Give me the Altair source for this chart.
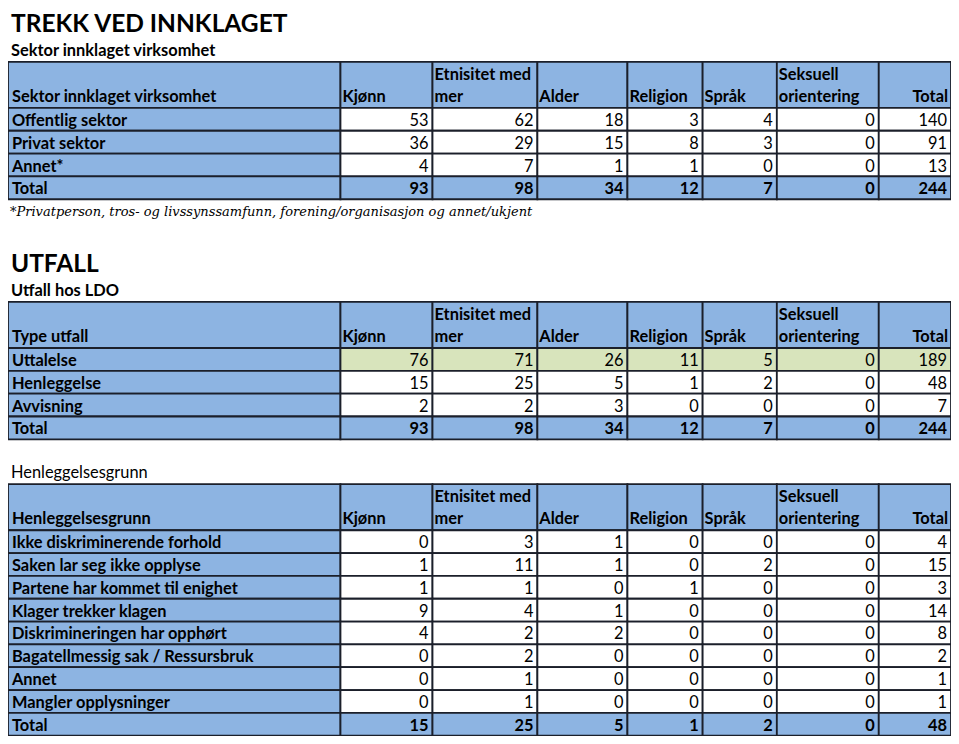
import altair as alt
import pandas as pd

# ---------------- data ----------------
TITLE_1 = "TREKK VED INNKLAGET"
SUB_1 = "Sektor innklaget virksomhet"
FOOTNOTE = "*Privatperson, tros- og livssynssamfunn, forening/organisasjon og annet/ukjent"
TITLE_2 = "UTFALL"
SUB_2 = "Utfall hos LDO"
SUB_3 = "Henleggelsesgrunn"

HEAD_LINE1 = ["", "Etnisitet med", "", "", "", "Seksuell", ""]
HEAD_LINE2 = ["Kjønn", "mer", "Alder", "Religion", "Språk", "orientering", "Total"]

T1_TITLE = "Sektor innklaget virksomhet"
T1_ROWS = ["Offentlig sektor", "Privat sektor", "Annet*", "Total"]
T1_VALUES = [
    [53, 62, 18, 3, 4, 0, 140],
    [36, 29, 15, 8, 3, 0, 91],
    [4, 7, 1, 1, 0, 0, 13],
    [93, 98, 34, 12, 7, 0, 244],
]

T2_TITLE = "Type utfall"
T2_ROWS = ["Uttalelse", "Henleggelse", "Avvisning", "Total"]
T2_VALUES = [
    [76, 71, 26, 11, 5, 0, 189],
    [15, 25, 5, 1, 2, 0, 48],
    [2, 2, 3, 0, 0, 0, 7],
    [93, 98, 34, 12, 7, 0, 244],
]
T2_HIGHLIGHT = ["Uttalelse"]

T3_TITLE = "Henleggelsesgrunn"
T3_ROWS = [
    "Ikke diskriminerende forhold",
    "Saken lar seg ikke opplyse",
    "Partene har kommet til enighet",
    "Klager trekker klagen",
    "Diskrimineringen har opphørt",
    "Bagatellmessig sak / Ressursbruk",
    "Annet",
    "Mangler opplysninger",
    "Total",
]
T3_VALUES = [
    [0, 3, 1, 0, 0, 0, 4],
    [1, 11, 1, 0, 2, 0, 15],
    [1, 1, 0, 1, 0, 0, 3],
    [9, 4, 1, 0, 0, 0, 14],
    [4, 2, 2, 0, 0, 0, 8],
    [0, 2, 0, 0, 0, 0, 2],
    [0, 1, 0, 0, 0, 0, 1],
    [0, 1, 0, 0, 0, 0, 1],
    [15, 25, 5, 1, 2, 0, 48],
]

# ---------------- layout (reference pixel units) ----------------
COL_EDGES = [2, 338, 431, 537, 628, 704, 779, 882, 955]
TABLE_TOPS = [52, 297, 483]
HEADER_H = 47
ROW_H = 23.3
BLUE = "#8DB4E2"
GREEN = "#D8E4BC"
WHITE = "#FFFFFF"

tables = [
    (T1_TITLE, T1_ROWS, T1_VALUES, []),
    (T2_TITLE, T2_ROWS, T2_VALUES, T2_HIGHLIGHT),
    (T3_TITLE, T3_ROWS, T3_VALUES, []),
]

rects = []
texts = []
for (ttitle, rows, values, highlight), top in zip(tables, TABLE_TOPS):
    hb = top + HEADER_H
    # header cells
    for c in range(len(COL_EDGES) - 1):
        rects.append(dict(x=COL_EDGES[c], x2=COL_EDGES[c + 1], y=top, y2=hb, fill=BLUE))
    texts.append(dict(x=COL_EDGES[0] + 4, y=hb - 6, text=ttitle, kind="head_l"))
    for c, (l1, l2) in enumerate(zip(HEAD_LINE1, HEAD_LINE2)):
        left, right = COL_EDGES[c + 1], COL_EDGES[c + 2]
        if l2 == "Total":
            texts.append(dict(x=right - 3, y=hb - 6, text=l2, kind="head_r"))
        else:
            texts.append(dict(x=left + 2, y=hb - 6, text=l2, kind="head_l"))
            if l1:
                texts.append(dict(x=left + 2, y=hb - 29, text=l1, kind="head_l"))
    # body
    for r, (label, vals) in enumerate(zip(rows, values)):
        y0 = hb + r * ROW_H
        y1 = y0 + ROW_H
        is_total = label == "Total"
        rects.append(dict(x=COL_EDGES[0], x2=COL_EDGES[1], y=y0, y2=y1, fill=BLUE))
        texts.append(dict(x=COL_EDGES[0] + 4, y=y1 - 5, text=label, kind="head_l"))
        for c, v in enumerate(vals):
            fill = BLUE if is_total else (GREEN if label in highlight else WHITE)
            rects.append(dict(x=COL_EDGES[c + 1], x2=COL_EDGES[c + 2], y=y0, y2=y1, fill=fill))
            texts.append(dict(x=COL_EDGES[c + 2] - 4, y=y1 - 5, text=str(v),
                              kind="val_b" if is_total else "val"))

texts += [
    dict(x=5, y=22, text=TITLE_1, kind="title"),
    dict(x=5, y=266, text=TITLE_2, kind="title"),
    dict(x=5, y=46, text=SUB_1, kind="sub_b"),
    dict(x=5, y=291, text=SUB_2, kind="sub_b"),
    dict(x=5, y=477, text=SUB_3, kind="sub"),
    dict(x=4, y=209, text=FOOTNOTE, kind="foot"),
]

rect_df = pd.DataFrame(rects)
text_df = pd.DataFrame(texts)

W, H = 943, 728
xs = alt.Scale(domain=[2, 955], nice=False, zero=False)
ys = alt.Scale(domain=[-3, 740], nice=False, zero=False, reverse=True)

cells = alt.Chart(rect_df).mark_rect(stroke="#1b1f2a", strokeWidth=1.8).encode(
    x=alt.X("x:Q", scale=xs, axis=None),
    x2="x2:Q",
    y=alt.Y("y:Q", scale=ys, axis=None),
    y2="y2:Q",
    fill=alt.Fill("fill:N", scale=None),
)

FONT = "Lato"
FS = 16.4

def text_layer(kind, **kw):
    return alt.Chart(text_df).transform_filter(alt.datum.kind == kind).mark_text(
        baseline="alphabetic", color="#000000", **kw
    ).encode(
        x=alt.X("x:Q", scale=xs, axis=None),
        y=alt.Y("y:Q", scale=ys, axis=None),
        text="text:N",
    )

layers = [
    cells,
    text_layer("head_l", align="left", font=FONT, fontWeight="bold", fontSize=FS),
    text_layer("head_r", align="right", font=FONT, fontWeight="bold", fontSize=FS),
    text_layer("val", align="right", font=FONT, fontSize=FS),
    text_layer("val_b", align="right", font=FONT, fontWeight="bold", fontSize=FS),
    text_layer("title", align="left", font=FONT, fontWeight="bold", fontSize=24.5),
    text_layer("sub_b", align="left", font=FONT, fontWeight="bold", fontSize=FS),
    text_layer("sub", align="left", font=FONT, fontSize=FS),
    text_layer("foot", align="left", font="DejaVu Serif", fontStyle="italic", fontSize=13),
]

chart = alt.layer(*layers).properties(
    width=W, height=H, padding=0, autosize=alt.AutoSizeParams(type="none")
).configure_view(stroke=None)

chart.save("out.html", embed_options={"renderer": "svg", "actions": False})
